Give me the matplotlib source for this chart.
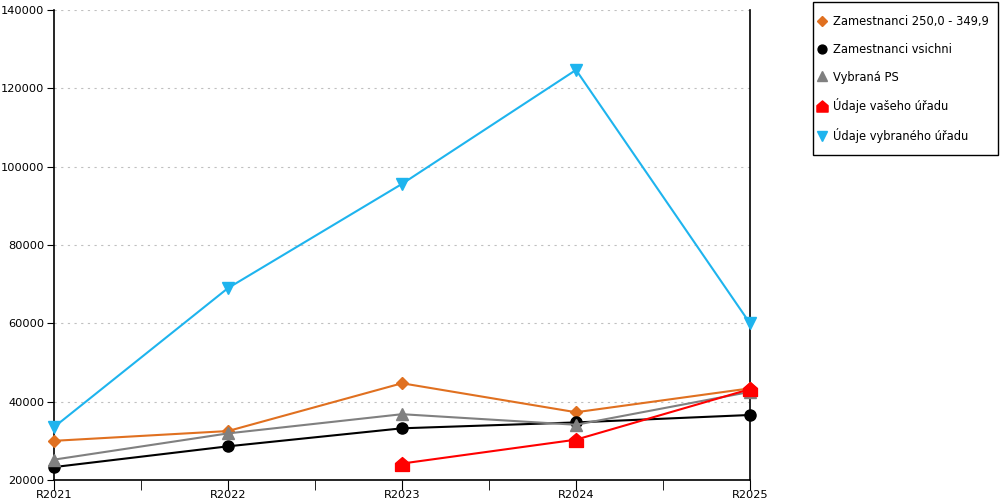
import matplotlib.pyplot as plt
from matplotlib.path import Path
from matplotlib.patches import Rectangle
import numpy as np

# data
years = ['R2021', 'R2022', 'R2023', 'R2024', 'R2025']
zam_250 = [30000, 32500, 44700, 37300, 43400]
zam_all = [23300, 28600, 33200, 34700, 36600]
vybrana_ps = [25200, 31900, 36800, 34100, 42500]
vas_urad = [None, None, 24200, 30300, 43200]
vybrany_urad = [33500, 69000, 95600, 124700, 60000]

# house-shaped marker
house = Path([(-1, -1), (1, -1), (1, 0.15), (0, 1), (-1, 0.15), (-1, -1)],
             [Path.MOVETO, Path.LINETO, Path.LINETO, Path.LINETO, Path.LINETO, Path.CLOSEPOLY])

fig = plt.figure(figsize=(10, 5), dpi=100)
ax = fig.add_axes([0.054, 0.04, 0.696, 0.94])

x = np.arange(len(years))
series = [
    ('Zamestnanci 250,0 - 349,9', zam_250, '#E07020', 'D', 6),
    ('Zamestnanci vsichni', zam_all, '#000000', 'o', 8),
    ('Vybraná PS', vybrana_ps, '#808080', '^', 9),
    ('Údaje vašeho úřadu', vas_urad, '#FF0000', house, 10),
    ('Údaje vybraného úřadu', vybrany_urad, '#1EB4EE', 'v', 9),
]
for label, vals, col, mk, ms in series:
    xs = [xi for xi, v in zip(x, vals) if v is not None]
    ys = [v for v in vals if v is not None]
    ax.plot(xs, ys, color=col, marker=mk, markersize=ms, linewidth=1.5,
            label=label, clip_on=False, zorder=3)

ax.set_xlim(0, 4)
ax.set_ylim(20000, 140000)
ax.set_yticks(range(20000, 140001, 20000))
ax.set_xticks(x)
ax.set_xticklabels(years)
ax.set_xticks(x[:-1] + 0.5, minor=True)
ax.tick_params(axis='x', which='both', direction='out', length=7, labelsize=8.2, pad=0)
ax.tick_params(axis='y', direction='out', length=5, labelsize=8.2, pad=2)
ax.grid(axis='y', linestyle=(0, (2, 4)), color='#c0c0c0', linewidth=0.8)
ax.spines['top'].set_visible(False)
for s in ['left', 'right', 'bottom']:
    ax.spines[s].set_linewidth(1.2)

# legend (frame drawn separately)
leg = fig.legend(loc='upper left', bbox_to_anchor=(0.818, 0.970), fontsize=8.3,
                 frameon=False, labelspacing=1.28, handlelength=0.7,
                 handletextpad=0.6, borderpad=0, borderaxespad=0, markerscale=0.8)
for h in leg.legend_handles:
    h.set_linestyle('None')
fig.patches.append(Rectangle((0.813, 0.69), 0.185, 0.306, transform=fig.transFigure,
                             fill=False, edgecolor='black', linewidth=1.0))

plt.savefig('out.png')
